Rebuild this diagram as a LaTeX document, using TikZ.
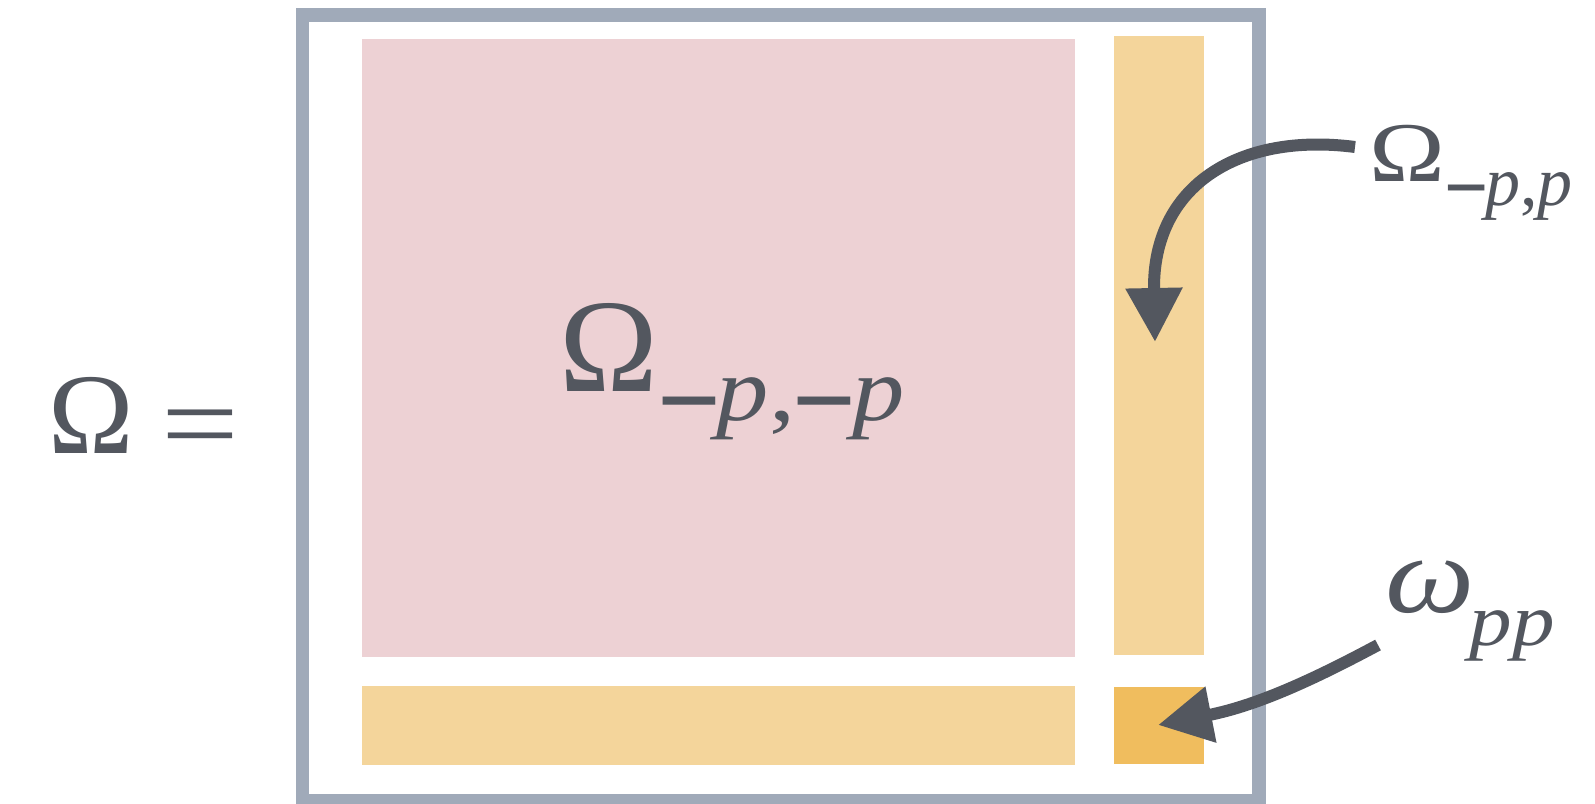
\documentclass[tikz,border=0pt]{standalone}
\usepackage{fontspec}
\setmainfont{Liberation Serif}
\usetikzlibrary{arrows.meta}
\definecolor{framec}{HTML}{A0AAB9}
\definecolor{pinkc}{HTML}{EDD1D4}
\definecolor{lyel}{HTML}{F4D59B}
\definecolor{dyel}{HTML}{F0BD5E}
\definecolor{ink}{HTML}{53575F}
\newcommand{\fs}[1]{\fontsize{#1pt}{#1pt}\selectfont}
\tikzset{
  blk/.style={inner sep=0pt, outer sep=0pt, anchor=north west, draw=none},
  lbl/.style={inner sep=0pt, outer sep=0pt, anchor=base west, text=ink},
  pointer/.style={draw=ink, line width=12pt, -{Triangle[length=54pt,width=54pt]}, fill=none}
}
\begin{document}
\begin{tikzpicture}[x=1pt,y=-1pt]
\useasboundingbox (0,0) rectangle (1595,803);
% frame
\node[draw=framec, line width=13.5pt, inner sep=0pt, outer sep=0pt, minimum width=956.5pt, minimum height=786pt, anchor=north west] (frame) at (302.5,15) {};
% blocks
\node[blk, fill=pinkc, minimum width=713pt, minimum height=618pt] (big) at (362,39) {};
\node[blk, fill=lyel, minimum width=90pt, minimum height=619pt] (col) at (1114,36) {};
\node[blk, fill=lyel, minimum width=713pt, minimum height=79pt] (row) at (362,686) {};
\node[blk, fill=dyel, minimum width=90pt, minimum height=77pt] (corner) at (1114,687) {};
% labels
\node[lbl] (omega) at (48,453) {\fs{115}Ω\hspace{28pt}\raisebox{-9pt}{\scalebox{1.2}[1]{=}}};
\node[lbl] (center) at (559,391) {\fs{133}Ω\raisebox{-29pt}{\scalebox{1.15}[1]{\fs{91}\raisebox{-35pt}{\scalebox{1.08}[1.8]{−}}\hspace{-4pt}\textit{p},\hspace{-3pt}\raisebox{-35pt}{\scalebox{1.08}[1.8]{−}}\hspace{-3pt}\textit{p}}}};
\node[lbl] (offd) at (1369,181) {\scalebox{1.2}[1]{\fs{85}Ω}\raisebox{-24pt}{\fs{70}\raisebox{-22pt}{\scalebox{1.12}[1.7]{−}}\hspace{-4pt}\textit{p},\textit{p}}};
\node[lbl] (diag) at (1385,612) {\scalebox{1.15}[1]{\fs{110}\textit{ω}\hspace{-4pt}\raisebox{-33pt}{\fs{74}\textit{pp}}}};
% arrows
\coordinate (a1s) at (1355,147);
\coordinate (a1e) at (1155,342);
\coordinate (a2s) at (1378,645);
\coordinate (a2e) at (1158,725);
\draw[pointer] (a1s) .. controls (1240,132) and (1152,185) .. (a1e);
\draw[pointer] (a2s) .. controls (1320,676) and (1260,705) .. (a2e);
\end{tikzpicture}
\end{document}
